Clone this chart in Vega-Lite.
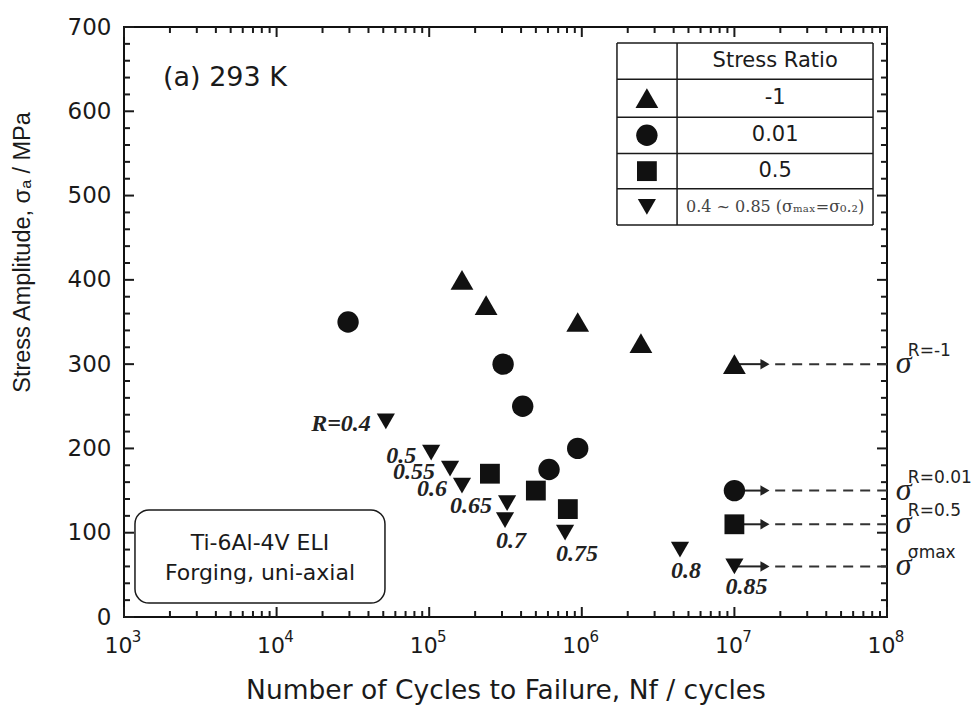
{
  "$schema": "https://vega.github.io/schema/vega-lite/v6.json",
  "width": 763,
  "height": 590,
  "autosize": "none",
  "padding": {"left": 124, "top": 27, "right": 90, "bottom": 99},
  "background": "white",
  "config": {
    "view": {"stroke": "#111", "strokeWidth": 2},
    "axis": {"grid": false, "domain": false, "labelFont": "DejaVu Sans", "titleFont": "Liberation Sans", "titleFontWeight": "normal", "labelColor": "#1a1a1a", "titleColor": "#1a1a1a", "tickColor": "#1a1a1a", "labelOverlap": false, "labelFlush": false},
    "text": {"font": "DejaVu Sans", "color": "#1a1a1a"}
  },
  "resolve": {"axis": {"x": "independent", "y": "independent"}},
  "datasets": {
    "points": [
      {"series": "R=-1", "cycles": 164000, "stress": 400},
      {"series": "R=-1", "cycles": 236000, "stress": 370},
      {"series": "R=-1", "cycles": 940000, "stress": 350},
      {"series": "R=-1", "cycles": 2440000, "stress": 325},
      {"series": "R=-1", "cycles": 10000000, "stress": 300},
      {"series": "R=0.01", "cycles": 29400, "stress": 350},
      {"series": "R=0.01", "cycles": 305000, "stress": 300},
      {"series": "R=0.01", "cycles": 410000, "stress": 250},
      {"series": "R=0.01", "cycles": 610000, "stress": 175},
      {"series": "R=0.01", "cycles": 940000, "stress": 200},
      {"series": "R=0.01", "cycles": 10000000, "stress": 150},
      {"series": "R=0.5", "cycles": 250000, "stress": 170},
      {"series": "R=0.5", "cycles": 500000, "stress": 150},
      {"series": "R=0.5", "cycles": 810000, "stress": 128},
      {"series": "R=0.5", "cycles": 10000000, "stress": 110},
      {"series": "R=0.4-0.85", "cycles": 52000, "stress": 232, "label": "R=0.4"},
      {"series": "R=0.4-0.85", "cycles": 103000, "stress": 195, "label": "0.5"},
      {"series": "R=0.4-0.85", "cycles": 137000, "stress": 176, "label": "0.55"},
      {"series": "R=0.4-0.85", "cycles": 164000, "stress": 156, "label": "0.6"},
      {"series": "R=0.4-0.85", "cycles": 324000, "stress": 135, "label": "0.65"},
      {"series": "R=0.4-0.85", "cycles": 314000, "stress": 115, "label": "0.7"},
      {"series": "R=0.4-0.85", "cycles": 777000, "stress": 100, "label": "0.75"},
      {"series": "R=0.4-0.85", "cycles": 4400000, "stress": 80, "label": "0.8"},
      {"series": "R=0.4-0.85", "cycles": 10000000, "stress": 60, "label": "0.85"}
    ],
    "arrows": [
      {"stress": 300, "sup": "R=-1"},
      {"stress": 150, "sup": "R=0.01"},
      {"stress": 110, "sup": "R=0.5"},
      {"stress": 60, "sup": "σmax"}
    ],
    "yticks": [
      {"stress": 0, "kind": "major"}, {"stress": 20, "kind": "minor"}, {"stress": 40, "kind": "minor"}, {"stress": 60, "kind": "minor"}, {"stress": 80, "kind": "minor"},
      {"stress": 100, "kind": "major"}, {"stress": 120, "kind": "minor"}, {"stress": 140, "kind": "minor"}, {"stress": 160, "kind": "minor"}, {"stress": 180, "kind": "minor"},
      {"stress": 200, "kind": "major"}, {"stress": 220, "kind": "minor"}, {"stress": 240, "kind": "minor"}, {"stress": 260, "kind": "minor"}, {"stress": 280, "kind": "minor"},
      {"stress": 300, "kind": "major"}, {"stress": 320, "kind": "minor"}, {"stress": 340, "kind": "minor"}, {"stress": 360, "kind": "minor"}, {"stress": 380, "kind": "minor"},
      {"stress": 400, "kind": "major"}, {"stress": 420, "kind": "minor"}, {"stress": 440, "kind": "minor"}, {"stress": 460, "kind": "minor"}, {"stress": 480, "kind": "minor"},
      {"stress": 500, "kind": "major"}, {"stress": 520, "kind": "minor"}, {"stress": 540, "kind": "minor"}, {"stress": 560, "kind": "minor"}, {"stress": 580, "kind": "minor"},
      {"stress": 600, "kind": "major"}, {"stress": 620, "kind": "minor"}, {"stress": 640, "kind": "minor"}, {"stress": 660, "kind": "minor"}, {"stress": 680, "kind": "minor"},
      {"stress": 700, "kind": "major"}
    ],
    "xticks": [
      {"cycles": 1000, "kind": "major"}, {"cycles": 2000, "kind": "minor"}, {"cycles": 3000, "kind": "minor"}, {"cycles": 4000, "kind": "minor"}, {"cycles": 5000, "kind": "minor"}, {"cycles": 6000, "kind": "minor"}, {"cycles": 7000, "kind": "minor"}, {"cycles": 8000, "kind": "minor"}, {"cycles": 9000, "kind": "minor"},
      {"cycles": 10000, "kind": "major"}, {"cycles": 20000, "kind": "minor"}, {"cycles": 30000, "kind": "minor"}, {"cycles": 40000, "kind": "minor"}, {"cycles": 50000, "kind": "minor"}, {"cycles": 60000, "kind": "minor"}, {"cycles": 70000, "kind": "minor"}, {"cycles": 80000, "kind": "minor"}, {"cycles": 90000, "kind": "minor"},
      {"cycles": 100000, "kind": "major"}, {"cycles": 200000, "kind": "minor"}, {"cycles": 300000, "kind": "minor"}, {"cycles": 400000, "kind": "minor"}, {"cycles": 500000, "kind": "minor"}, {"cycles": 600000, "kind": "minor"}, {"cycles": 700000, "kind": "minor"}, {"cycles": 800000, "kind": "minor"}, {"cycles": 900000, "kind": "minor"},
      {"cycles": 1000000, "kind": "major"}, {"cycles": 2000000, "kind": "minor"}, {"cycles": 3000000, "kind": "minor"}, {"cycles": 4000000, "kind": "minor"}, {"cycles": 5000000, "kind": "minor"}, {"cycles": 6000000, "kind": "minor"}, {"cycles": 7000000, "kind": "minor"}, {"cycles": 8000000, "kind": "minor"}, {"cycles": 9000000, "kind": "minor"},
      {"cycles": 10000000, "kind": "major"}, {"cycles": 20000000, "kind": "minor"}, {"cycles": 30000000, "kind": "minor"}, {"cycles": 40000000, "kind": "minor"}, {"cycles": 50000000, "kind": "minor"}, {"cycles": 60000000, "kind": "minor"}, {"cycles": 70000000, "kind": "minor"}, {"cycles": 80000000, "kind": "minor"}, {"cycles": 90000000, "kind": "minor"},
      {"cycles": 100000000, "kind": "major"}
    ],
    "table_h": [
      {"x1": 1700000, "x2": 81000000, "y": 681},
      {"x1": 1700000, "x2": 81000000, "y": 638},
      {"x1": 1700000, "x2": 81000000, "y": 593},
      {"x1": 1700000, "x2": 81000000, "y": 550},
      {"x1": 1700000, "x2": 81000000, "y": 508},
      {"x1": 1700000, "x2": 81000000, "y": 465}
    ],
    "table_v": [
      {"x": 1700000, "y1": 465, "y2": 681},
      {"x": 4210000, "y1": 465, "y2": 681},
      {"x": 81000000, "y1": 465, "y2": 681}
    ],
    "table_text": [
      {"row": 0, "text": "Stress Ratio", "y": 659.5},
      {"row": 1, "text": "-1", "y": 615.5},
      {"row": 2, "text": "0.01", "y": 571.5},
      {"row": 3, "text": "0.5", "y": 529},
      {"row": 4, "text": "0.4 ~ 0.85 (σₘₐₓ=σ₀.₂)", "y": 486.5}
    ],
    "table_symbols": [
      {"series": "R=-1", "y": 615.5},
      {"series": "R=0.01", "y": 571.5},
      {"series": "R=0.5", "y": 529},
      {"series": "R=0.4-0.85", "y": 486.5}
    ],
    "box": [{"x1": 1180, "x2": 51300, "y1": 127, "y2": 16.6}],
    "box_text": [
      {"text": "Ti-6Al-4V ELI", "y": 88},
      {"text": "Forging, uni-axial", "y": 52}
    ],
    "panel": [{"text": "(a) 293 K", "cycles": 1800, "stress": 640}]
  },
  "layer": [
    {
      "data": {"name": "box"},
      "mark": {"type": "rect", "fill": "white", "stroke": "#1a1a1a", "strokeWidth": 1.5, "cornerRadius": 14},
      "encoding": {
        "x": {"field": "x1", "type": "quantitative", "scale": {"type": "log", "domain": [1000, 100000000], "nice": false}, "axis": null},
        "x2": {"field": "x2"},
        "y": {"field": "y1", "type": "quantitative", "scale": {"domain": [0, 700], "nice": false, "zero": false}, "axis": null},
        "y2": {"field": "y2"}
      }
    },
    {
      "data": {"name": "box_text"},
      "mark": {"type": "text", "fontSize": 22, "align": "center", "baseline": "middle"},
      "encoding": {
        "x": {"datum": 7780, "type": "quantitative", "scale": {"type": "log", "domain": [1000, 100000000], "nice": false}, "axis": null},
        "y": {"field": "y", "type": "quantitative", "scale": {"domain": [0, 700], "nice": false, "zero": false}, "axis": null},
        "text": {"field": "text"}
      }
    },
    {
      "data": {"name": "panel"},
      "mark": {"type": "text", "fontSize": 27, "align": "left", "baseline": "middle"},
      "encoding": {
        "x": {"field": "cycles", "type": "quantitative", "scale": {"type": "log", "domain": [1000, 100000000], "nice": false}, "axis": null},
        "y": {"field": "stress", "type": "quantitative", "scale": {"domain": [0, 700], "nice": false, "zero": false}, "axis": null},
        "text": {"field": "text"}
      }
    },
    {
      "data": {"name": "yticks"},
      "transform": [{"filter": "datum.kind == 'major'"}],
      "mark": {"type": "rule", "color": "#1a1a1a", "strokeWidth": 2},
      "encoding": {
        "x": {"datum": 1000, "type": "quantitative", "scale": {"type": "log", "domain": [1000, 100000000], "nice": false}, "axis": null},
        "x2": {"datum": 1163},
        "y": {"field": "stress", "type": "quantitative", "scale": {"domain": [0, 700], "nice": false, "zero": false}, "axis": null}
      }
    },
    {
      "data": {"name": "yticks"},
      "transform": [{"filter": "datum.kind == 'minor'"}],
      "mark": {"type": "rule", "color": "#1a1a1a", "strokeWidth": 2},
      "encoding": {
        "x": {"datum": 1000, "type": "quantitative", "scale": {"type": "log", "domain": [1000, 100000000], "nice": false}, "axis": null},
        "x2": {"datum": 1095},
        "y": {"field": "stress", "type": "quantitative", "scale": {"domain": [0, 700], "nice": false, "zero": false}, "axis": null}
      }
    },
    {
      "data": {"name": "yticks"},
      "transform": [{"filter": "datum.kind == 'major'"}],
      "mark": {"type": "rule", "color": "#1a1a1a", "strokeWidth": 2},
      "encoding": {
        "x": {"datum": 86000000, "type": "quantitative", "scale": {"type": "log", "domain": [1000, 100000000], "nice": false}, "axis": null},
        "x2": {"datum": 100000000},
        "y": {"field": "stress", "type": "quantitative", "scale": {"domain": [0, 700], "nice": false, "zero": false}, "axis": null}
      }
    },
    {
      "data": {"name": "yticks"},
      "transform": [{"filter": "datum.kind == 'minor'"}],
      "mark": {"type": "rule", "color": "#1a1a1a", "strokeWidth": 2},
      "encoding": {
        "x": {"datum": 91300000, "type": "quantitative", "scale": {"type": "log", "domain": [1000, 100000000], "nice": false}, "axis": null},
        "x2": {"datum": 100000000},
        "y": {"field": "stress", "type": "quantitative", "scale": {"domain": [0, 700], "nice": false, "zero": false}, "axis": null}
      }
    },
    {
      "data": {"name": "xticks"},
      "transform": [{"filter": "datum.kind == 'major'"}],
      "mark": {"type": "rule", "color": "#1a1a1a", "strokeWidth": 2},
      "encoding": {
        "x": {"field": "cycles", "type": "quantitative", "scale": {"type": "log", "domain": [1000, 100000000], "nice": false}, "axis": null},
        "y": {"datum": 0, "type": "quantitative", "scale": {"domain": [0, 700], "nice": false, "zero": false}, "axis": null},
        "y2": {"datum": 11.9}
      }
    },
    {
      "data": {"name": "xticks"},
      "transform": [{"filter": "datum.kind == 'minor'"}],
      "mark": {"type": "rule", "color": "#1a1a1a", "strokeWidth": 2},
      "encoding": {
        "x": {"field": "cycles", "type": "quantitative", "scale": {"type": "log", "domain": [1000, 100000000], "nice": false}, "axis": null},
        "y": {"datum": 0, "type": "quantitative", "scale": {"domain": [0, 700], "nice": false, "zero": false}, "axis": null},
        "y2": {"datum": 7.1}
      }
    },
    {
      "data": {"name": "xticks"},
      "transform": [{"filter": "datum.kind == 'major'"}],
      "mark": {"type": "rule", "color": "#1a1a1a", "strokeWidth": 2},
      "encoding": {
        "x": {"field": "cycles", "type": "quantitative", "scale": {"type": "log", "domain": [1000, 100000000], "nice": false}, "axis": null},
        "y": {"datum": 688.1, "type": "quantitative", "scale": {"domain": [0, 700], "nice": false, "zero": false}, "axis": null},
        "y2": {"datum": 700}
      }
    },
    {
      "data": {"name": "xticks"},
      "transform": [{"filter": "datum.kind == 'minor'"}],
      "mark": {"type": "rule", "color": "#1a1a1a", "strokeWidth": 2},
      "encoding": {
        "x": {"field": "cycles", "type": "quantitative", "scale": {"type": "log", "domain": [1000, 100000000], "nice": false}, "axis": null},
        "y": {"datum": 692.9, "type": "quantitative", "scale": {"domain": [0, 700], "nice": false, "zero": false}, "axis": null},
        "y2": {"datum": 700}
      }
    },
    {
      "data": {"name": "table_h"},
      "mark": {"type": "rule", "color": "#1a1a1a", "strokeWidth": 1.5},
      "encoding": {
        "x": {"field": "x1", "type": "quantitative", "scale": {"type": "log", "domain": [1000, 100000000], "nice": false}, "axis": null},
        "x2": {"field": "x2"},
        "y": {"field": "y", "type": "quantitative", "scale": {"domain": [0, 700], "nice": false, "zero": false}, "axis": null}
      }
    },
    {
      "data": {"name": "table_v"},
      "mark": {"type": "rule", "color": "#1a1a1a", "strokeWidth": 1.5},
      "encoding": {
        "x": {"field": "x", "type": "quantitative", "scale": {"type": "log", "domain": [1000, 100000000], "nice": false}, "axis": null},
        "y": {"field": "y1", "type": "quantitative", "scale": {"domain": [0, 700], "nice": false, "zero": false}, "axis": null},
        "y2": {"field": "y2"}
      }
    },
    {
      "data": {"name": "table_text"},
      "transform": [{"filter": "datum.row < 4"}],
      "mark": {"type": "text", "fontSize": 21, "align": "center", "baseline": "middle"},
      "encoding": {
        "x": {"datum": 18500000, "type": "quantitative", "scale": {"type": "log", "domain": [1000, 100000000], "nice": false}, "axis": null},
        "y": {"field": "y", "type": "quantitative", "scale": {"domain": [0, 700], "nice": false, "zero": false}, "axis": null},
        "text": {"field": "text"}
      }
    },
    {
      "data": {"name": "table_text"},
      "transform": [{"filter": "datum.row == 4"}],
      "mark": {"type": "text", "fontSize": 16, "font": "DejaVu Serif", "align": "center", "baseline": "middle", "color": "#444"},
      "encoding": {
        "x": {"datum": 18500000, "type": "quantitative", "scale": {"type": "log", "domain": [1000, 100000000], "nice": false}, "axis": null},
        "y": {"field": "y", "type": "quantitative", "scale": {"domain": [0, 700], "nice": false, "zero": false}, "axis": null},
        "text": {"field": "text"}
      }
    },
    {
      "data": {"name": "table_symbols"},
      "mark": {"type": "point", "filled": true, "opacity": 1, "color": "#111"},
      "encoding": {
        "x": {"datum": 2670000, "type": "quantitative", "scale": {"type": "log", "domain": [1000, 100000000], "nice": false}, "axis": null},
        "y": {"field": "y", "type": "quantitative", "scale": {"domain": [0, 700], "nice": false, "zero": false}, "axis": null},
        "shape": {"field": "series", "type": "nominal", "scale": {"domain": ["R=-1", "R=0.01", "R=0.5", "R=0.4-0.85"], "range": ["triangle-up", "circle", "square", "triangle-down"]}, "legend": null},
        "size": {"field": "series", "type": "ordinal", "scale": {"domain": ["R=-1", "R=0.01", "R=0.5", "R=0.4-0.85"], "range": [520, 330, 380, 520]}, "legend": null}
      }
    },
    {
      "data": {"name": "arrows"},
      "mark": {"type": "rule", "color": "#222", "strokeWidth": 2},
      "encoding": {
        "x": {"datum": 10000000, "type": "quantitative", "scale": {"type": "log", "domain": [1000, 100000000], "nice": false}, "axis": null},
        "x2": {"datum": 15500000},
        "y": {"field": "stress", "type": "quantitative", "scale": {"domain": [0, 700], "nice": false, "zero": false}, "axis": null}
      }
    },
    {
      "data": {"name": "arrows"},
      "mark": {"type": "rule", "color": "#333", "strokeWidth": 2, "strokeDash": [10, 7]},
      "encoding": {
        "x": {"datum": 18500000, "type": "quantitative", "scale": {"type": "log", "domain": [1000, 100000000], "nice": false}, "axis": null},
        "x2": {"datum": 100000000},
        "y": {"field": "stress", "type": "quantitative", "scale": {"domain": [0, 700], "nice": false, "zero": false}, "axis": null}
      }
    },
    {
      "data": {"name": "arrows"},
      "mark": {"type": "point", "shape": "triangle-right", "filled": true, "opacity": 1, "color": "#222", "size": 110},
      "encoding": {
        "x": {"datum": 15860000, "type": "quantitative", "scale": {"type": "log", "domain": [1000, 100000000], "nice": false}, "axis": null},
        "y": {"field": "stress", "type": "quantitative", "scale": {"domain": [0, 700], "nice": false, "zero": false}, "axis": null}
      }
    },
    {
      "data": {"name": "points"},
      "mark": {"type": "point", "filled": true, "opacity": 1, "color": "#111"},
      "encoding": {
        "x": {"field": "cycles", "type": "quantitative", "scale": {"type": "log", "domain": [1000, 100000000], "nice": false},
              "axis": {"orient": "bottom", "values": [1000, 10000, 100000, 1000000, 10000000, 100000000], "labelExpr": "'10'", "labelFontSize": 22, "labelPadding": 18, "labelBaseline": "top", "labelOffset": -6, "ticks": false,
                       "title": "Number of Cycles to Failure, Nf / cycles", "titleFont": "DejaVu Sans", "titleFontSize": 26.5, "titleY": 73, "titleBaseline": "middle"}},
        "y": {"field": "stress", "type": "quantitative", "scale": {"domain": [0, 700], "nice": false, "zero": false},
              "axis": {"orient": "left", "values": [0, 100, 200, 300, 400, 500, 600, 700], "labelFontSize": 23, "labelPadding": 13, "ticks": false,
                       "title": "Stress Amplitude, σₐ / MPa", "titleFontSize": 23.5, "titleX": -102, "titleY": 225, "titleBaseline": "middle", "titleAngle": -90}},
        "shape": {"field": "series", "type": "nominal", "scale": {"domain": ["R=-1", "R=0.01", "R=0.5", "R=0.4-0.85"], "range": ["triangle-up", "circle", "square", "triangle-down"]}, "legend": null},
        "size": {"field": "series", "type": "ordinal", "scale": {"domain": ["R=-1", "R=0.01", "R=0.5", "R=0.4-0.85"], "range": [520, 330, 380, 520]}, "legend": null}
      }
    },
    {
      "data": {"name": "points"},
      "transform": [{"filter": "indexof(['R=0.4','0.5','0.55','0.6','0.65'], datum.label) >= 0"}],
      "mark": {"type": "text", "font": "Liberation Serif", "fontStyle": "italic", "fontWeight": "bold", "fontSize": 24, "align": "right", "baseline": "middle", "dx": -15, "dy": 3, "color": "#222"},
      "encoding": {
        "x": {"field": "cycles", "type": "quantitative", "scale": {"type": "log", "domain": [1000, 100000000], "nice": false},
              "axis": {"orient": "bottom", "values": [1000, 10000, 100000, 1000000, 10000000, 100000000], "labelExpr": "'' + round(log(datum.value)/LN10)", "labelFontSize": 15, "labelPadding": 12, "labelBaseline": "top", "labelOffset": 12, "ticks": false, "title": null}},
        "y": {"field": "stress", "type": "quantitative", "scale": {"domain": [0, 700], "nice": false, "zero": false}, "axis": null},
        "text": {"field": "label"}
      }
    },
    {
      "data": {"name": "points"},
      "transform": [{"filter": "indexof(['0.7','0.75','0.8','0.85'], datum.label) >= 0"}],
      "mark": {"type": "text", "font": "Liberation Serif", "fontStyle": "italic", "fontWeight": "bold", "fontSize": 24, "align": "left", "baseline": "middle", "dx": -9, "dy": 21, "color": "#222"},
      "encoding": {
        "x": {"field": "cycles", "type": "quantitative", "scale": {"type": "log", "domain": [1000, 100000000], "nice": false}, "axis": null},
        "y": {"field": "stress", "type": "quantitative", "scale": {"domain": [0, 700], "nice": false, "zero": false}, "axis": null},
        "text": {"field": "label"}
      }
    },
    {
      "data": {"name": "arrows"},
      "mark": {"type": "text", "font": "Liberation Serif", "fontStyle": "italic", "fontSize": 32, "align": "left", "baseline": "alphabetic", "dy": 9, "color": "#222", "text": "σ"},
      "encoding": {
        "x": {"datum": 114000000, "type": "quantitative", "scale": {"type": "log", "domain": [1000, 100000000], "nice": false}, "axis": null},
        "y": {"field": "stress", "type": "quantitative", "scale": {"domain": [0, 700], "nice": false, "zero": false}, "axis": null}
      }
    },
    {
      "data": {"name": "arrows"},
      "mark": {"type": "text", "fontSize": 17, "align": "left", "baseline": "middle", "dy": -13, "color": "#222"},
      "encoding": {
        "x": {"datum": 137000000, "type": "quantitative", "scale": {"type": "log", "domain": [1000, 100000000], "nice": false}, "axis": null},
        "y": {"field": "stress", "type": "quantitative", "scale": {"domain": [0, 700], "nice": false, "zero": false}, "axis": null},
        "text": {"field": "sup"}
      }
    }
  ]
}
